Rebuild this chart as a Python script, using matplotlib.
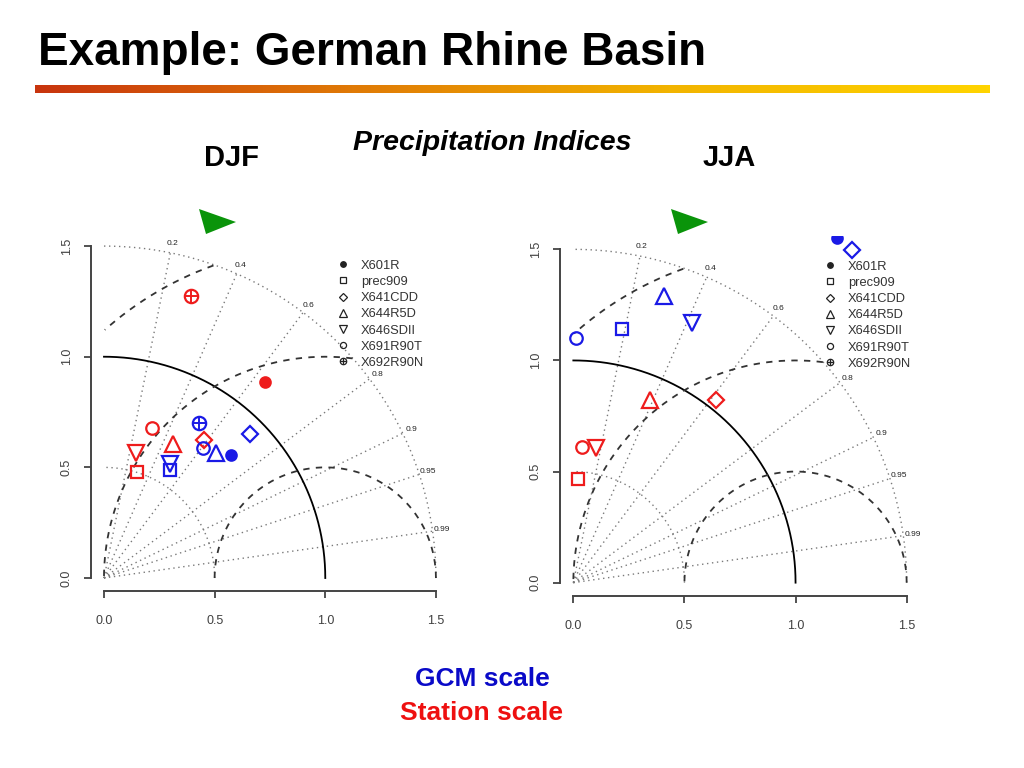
import numpy as np
import matplotlib
matplotlib.use('Agg')
import matplotlib.pyplot as plt
from matplotlib.lines import Line2D
from matplotlib.patches import Polygon
from matplotlib.colors import LinearSegmentedColormap
from matplotlib.legend_handler import HandlerTuple

plt.rcParams['font.family'] = ['Liberation Sans', 'DejaVu Sans']

# ---------------- data ----------------
indices = ['X601R', 'prec909', 'X641CDD', 'X644R5D', 'X646SDII', 'X691R90T', 'X692R90N']

# normalised standard deviation and correlation, DJF
djf_gcm_sd = [0.798, 0.573, 0.927, 0.759, 0.594, 0.738, 0.820]
djf_gcm_cor = [0.717, 0.524, 0.712, 0.666, 0.502, 0.608, 0.523]
djf_stn_sd = [1.146, 0.500, 0.771, 0.681, 0.581, 0.710, 1.333]
djf_stn_cor = [0.634, 0.296, 0.586, 0.460, 0.246, 0.307, 0.295]

# JJA (nan = outside the plotted range)
jja_gcm_sd = [1.951, 1.163, 1.952, 1.353, 1.283, 1.100, np.nan]
jja_gcm_cor = [0.607, 0.187, 0.642, 0.302, 0.415, 0.010, np.nan]
jja_stn_sd = [np.nan, 0.465, 1.042, 0.890, 0.614, 0.612, np.nan]
jja_stn_cor = [np.nan, 0.043, 0.615, 0.386, 0.166, 0.064, np.nan]

corr_ticks = [0.2, 0.4, 0.6, 0.8, 0.9, 0.95, 0.99]
sd_ticks = [0.0, 0.5, 1.0, 1.5]

GCM_COL = '#1a1ae6'
STN_COL = '#ee1c1c'

markers = ['o', 's', 'D', '^', 'v', 'o', 'o']
filled = [True, False, False, False, False, False, False]
msizes = [7.5, 9.0, 8.2, 12.0, 12.0, 9.0, 9.6]
leg_ms = [4.0, 4.4, 3.6, 5.2, 5.2, 4.4, 4.6]

fig = plt.figure(figsize=(10.24, 7.68), dpi=100)

# ---------------- slide header ----------------
fig.text(38 / 1024, 1 - 53 / 768, 'Example: German Rhine Basin', fontsize=33,
         fontweight='bold', ha='left', va='center', color='black')
bar_ax = fig.add_axes([35 / 1024, 1 - 93 / 768, 955 / 1024, 8 / 768])
cmap = LinearSegmentedColormap.from_list('bar', ['#c8340e', '#e07a06', '#f2b400', '#ffd400'])
bar_ax.imshow(np.linspace(0, 1, 256)[None, :], aspect='auto', cmap=cmap)
bar_ax.axis('off')

fig.text(492 / 1024, 1 - 143 / 768, 'Precipitation Indices', fontsize=20.5,
         fontweight='bold', fontstyle='italic', ha='center', va='center')
fig.text(232 / 1024, 1 - 158 / 768, 'DJF', fontsize=21, fontweight='bold',
         ha='center', va='center')
fig.text(729 / 1024, 1 - 158 / 768, 'JJA', fontsize=21, fontweight='bold',
         ha='center', va='center')
for x0 in [199, 671]:
    tri = Polygon([[(x0) / 1024, 1 - 209 / 768], [(x0 + 37) / 1024, 1 - 222 / 768],
                   [(x0 + 7) / 1024, 1 - 234 / 768]], closed=True,
                  transform=fig.transFigure, facecolor='#0a940a', edgecolor='none')
    fig.add_artist(tri)

fig.text(482 / 1024, 1 - 679 / 768, 'GCM scale', fontsize=19, fontweight='bold',
         color='#0a0ac8', ha='center', va='center')
fig.text(482 / 1024, 1 - 713 / 768, 'Station scale', fontsize=19, fontweight='bold',
         color='#ee1010', ha='center', va='center')


def point_xy(sd, cor):
    sd = np.asarray(sd, float)
    cor = np.asarray(cor, float)
    return sd * cor, sd * np.sqrt(1 - cor ** 2)


def draw_series(ax, sd, cor, col):
    xs, ys = point_xy(sd, cor)
    for i in range(len(indices)):
        if np.isnan(xs[i]):
            continue
        ax.plot(xs[i], ys[i], marker=markers[i], ms=msizes[i], mew=1.6,
                mec=col, mfc=col if filled[i] else 'none', ls='none', zorder=5)
        if i == 6:
            ax.plot(xs[i], ys[i], marker='+', ms=msizes[i], mew=1.4, mec=col,
                    ls='none', zorder=5)


def taylor(ax, gsd, gcor, ssd, scor, leg_anchor):
    ax.set_xlim(-0.06, 1.56)
    ax.set_ylim(-0.06, 1.56)
    th = np.linspace(0, np.pi / 2, 300)
    dot = (0, (1, 2.6))
    ax.plot(np.cos(th), np.sin(th), color='black', lw=1.3, zorder=2)
    for r in [0.5, 1.5]:
        ax.plot(r * np.cos(th), r * np.sin(th), color='#7a7a7a', lw=1.0, ls=dot, zorder=1)
    phi = np.linspace(0, np.pi, 600)
    for R in [0.5, 1.0, 1.5]:
        x = 1 + R * np.cos(phi)
        y = R * np.sin(phi)
        mask = (x < 0) | (x ** 2 + y ** 2 > 1.5 ** 2 + 1e-9)
        x[mask] = np.nan
        y[mask] = np.nan
        ax.plot(x, y, color='#333333', lw=1.3, ls=(0, (3.5, 3.5)), zorder=2)
    for c in corr_ticks:
        a = np.arccos(c)
        ax.plot([0, 1.5 * np.cos(a)], [0, 1.5 * np.sin(a)], color='#7a7a7a',
                lw=1.0, ls=dot, zorder=1)
        rr = 1.53 if c == 0.8 else 1.542
        ax.text(rr * np.cos(a) + (0.01 if c == 0.8 else 0), rr * np.sin(a), f'{c:g}',
                fontsize=6, ha='center', va='center', color='#222222')
    draw_series(ax, ssd, scor, STN_COL)
    draw_series(ax, gsd, gcor, GCM_COL)

    # axes in R style
    for s in ['top', 'right']:
        ax.spines[s].set_visible(False)
    for s in ['left', 'bottom']:
        ax.spines[s].set_bounds(0, 1.5)
        ax.spines[s].set_color('#444444')
        ax.spines[s].set_linewidth(1.4)
    ax.set_xticks(sd_ticks)
    ax.set_yticks(sd_ticks)
    ax.set_xticklabels([f'{v:.1f}' for v in sd_ticks])
    ax.set_yticklabels([f'{v:.1f}' for v in sd_ticks], rotation=90, va='center')
    ax.tick_params(axis='both', direction='out', length=5, width=1.3, color='#444444',
                   labelsize=9, labelcolor='#404040')
    ax.tick_params(axis='x', pad=12)
    ax.tick_params(axis='y', pad=8)

    handles = []
    for i in range(len(indices)):
        h = Line2D([], [], marker=markers[i], ms=leg_ms[i], mew=0.9, mec='#222222',
                   mfc='#222222' if filled[i] else 'none', ls='none')
        if i == 6:
            h = (h, Line2D([], [], marker='+', ms=leg_ms[i], mew=0.9, mec='#222222', ls='none'))
        handles.append(h)
    ax.legend(handles, indices, loc='upper left', bbox_to_anchor=leg_anchor,
              bbox_transform=ax.transData, frameon=False, borderpad=0,
              borderaxespad=0, handlelength=0.8, handletextpad=1.0,
              labelspacing=0.32, fontsize=9.3, labelcolor='#333333',
              handler_map={tuple: HandlerTuple(ndivide=1, pad=0)})


ax1 = fig.add_axes([90.7 / 1024, (768 - 591.3) / 768, 358.5 / 1024, 358.5 / 768])
taylor(ax1, djf_gcm_sd, djf_gcm_cor, djf_stn_sd, djf_stn_cor, (1.057, 1.438))

ax2 = fig.add_axes([560.0 / 1024, (768 - 596.0) / 768, 360.0 / 1024, 360.0 / 768])
taylor(ax2, jja_gcm_sd, jja_gcm_cor, jja_stn_sd, jja_stn_cor, (1.132, 1.449))

fig.savefig('out.png', dpi=100)
